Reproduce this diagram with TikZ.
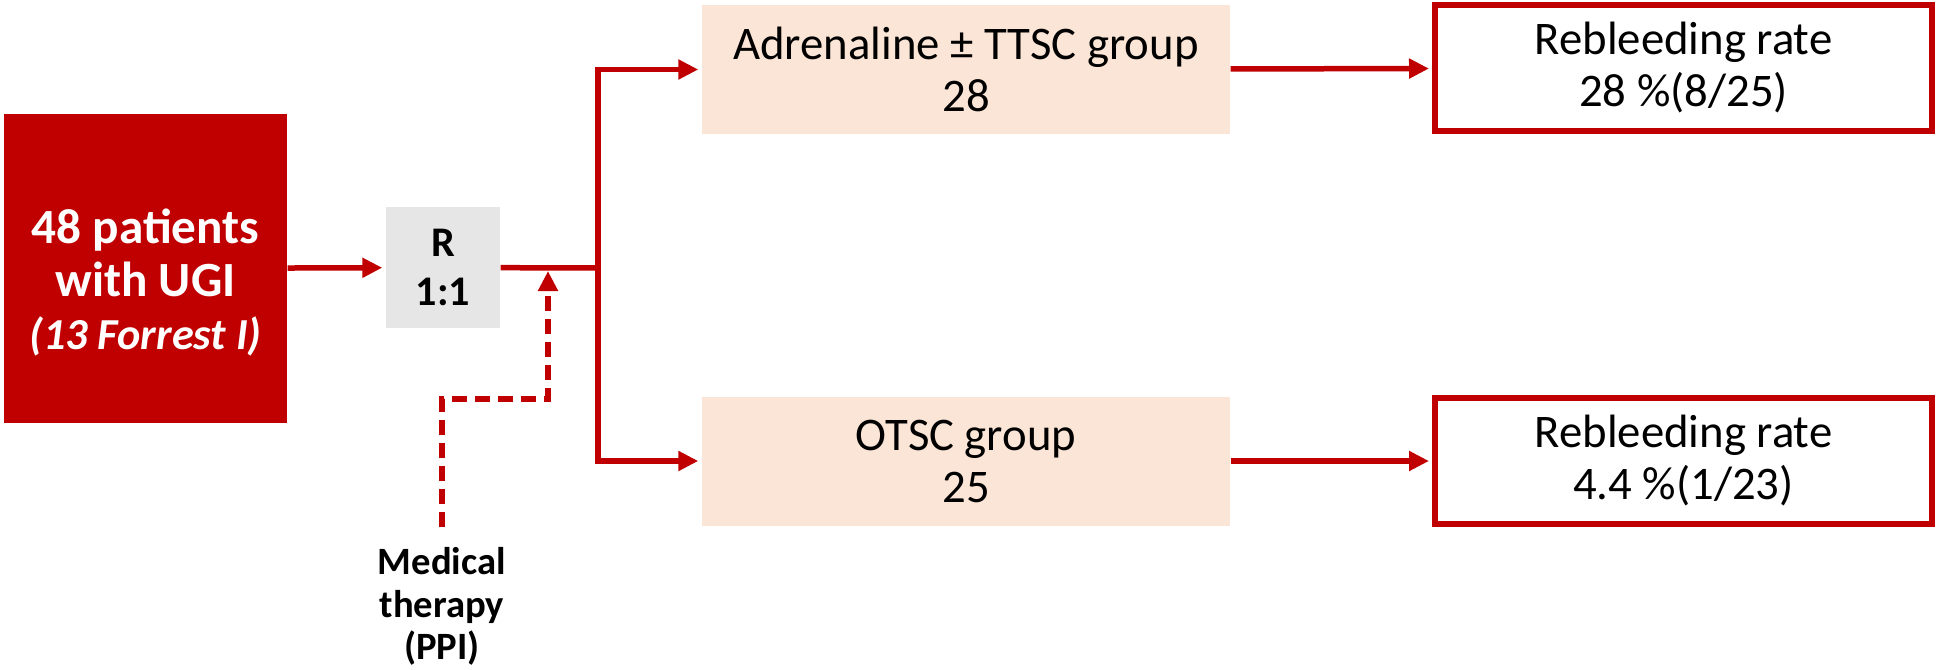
\documentclass[tikz,border=0pt]{standalone}
\usepackage{fontspec}
\setmainfont{Carlito}
\usetikzlibrary{arrows.meta}
\definecolor{darkred}{RGB}{192,0,0}
\definecolor{peach}{RGB}{251,229,214}
\definecolor{randgray}{RGB}{231,230,230}
\tikzset{
  patbox/.style={fill=darkred,text=white,font=\bfseries\fontsize{14}{15}\selectfont,
    align=center,minimum width=2.83cm,minimum height=3.09cm},
  randbox/.style={fill=randgray,font=\bfseries\fontsize{12}{14}\selectfont,
    align=center,minimum width=1.14cm,minimum height=1.21cm},
  grpbox/.style={fill=peach,font=\fontsize{13.3}{14.8}\selectfont,
    align=center,minimum width=5.28cm,minimum height=1.29cm},
  resbox/.style={draw=darkred,line width=0.06cm,fill=white,font=\fontsize{13.3}{14.8}\selectfont,
    align=center,minimum width=4.97cm,minimum height=1.26cm},
  medtext/.style={font=\bfseries\fontsize{11}{12}\selectfont,align=center,inner xsep=0.1cm,inner ysep=0.2cm},
  conn/.style={darkred,line width=0.055cm,-{Triangle[length=0.2cm,width=0.19cm]},shorten >=0.03cm},
  ppiline/.style={darkred,line width=0.055cm,dash pattern=on 0.15cm off 0.08cm,-{Triangle[length=0.2cm,width=0.19cm]}}
}
\begin{document}
\begin{tikzpicture}
\useasboundingbox (0,0) rectangle (19.39,6.69);
% boxes
\node[patbox] (pts) at (1.455,4.005) {\rule{0pt}{0.63cm}48 patients\\with UGI\\\textit{\fontsize{12.6}{15}\selectfont(13 Forrest I)}};
\node[randbox] (rand) at (4.43,4.015) {R\\1:1};
\node[grpbox] (adr) at (9.66,5.995) {Adrenaline ± TTSC group\\28};
\node[grpbox] (otsc) at (9.66,2.08) {OTSC group\\25};
\node[resbox] (rbA) at (16.835,6.01) {Rebleeding rate\\28 \%(8/25)};
\node[resbox] (rbB) at (16.835,2.08) {Rebleeding rate\\4.4 \%(1/23)};
\node[medtext,anchor=north] (med) at (4.42,1.42) {Medical\\therapy\\(PPI)};
\coordinate (split) at (5.98,4.01);
\coordinate (ppi) at (5.48,3.98);
% connectors
\draw[conn] (pts) -- (rand);
\draw[conn,-] (rand) -- (split);
\draw[conn] (split) |- (adr);
\draw[conn] (split) |- (otsc);
\draw[conn] (adr) -- (rbA);
\draw[conn] (otsc) -- (rbB);
\draw[ppiline] (med) |- (5.48,2.70) -- (ppi);
\end{tikzpicture}
\end{document}
